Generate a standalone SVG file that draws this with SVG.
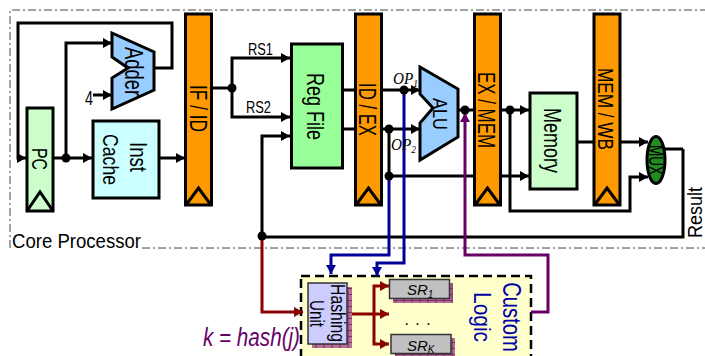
<svg xmlns="http://www.w3.org/2000/svg" width="705" height="356" viewBox="0 0 705 356">
<style>
text{font-family:"Liberation Sans",Arial,sans-serif;fill:#000}
.s{font-family:"Liberation Serif","Times New Roman",serif;font-style:italic}
.w{fill:none;stroke:#000;stroke-width:3}
.bl{fill:none;stroke:#000099;stroke-width:3}
.rd{fill:none;stroke:#8b0000;stroke-width:3}
.pu{fill:none;stroke:#660066;stroke-width:3}
.bar{fill:#ff9900;stroke:#000;stroke-width:3}
.box{stroke:#000;stroke-width:3}
.clk{fill:none;stroke:#000;stroke-width:3}
.a{marker-end:url(#ab)}
.dot{fill:#000}
.shadow{fill:url(#brick)}
.unit{stroke:#333;stroke-width:1.5}
.m{text-anchor:middle}
</style>
<defs>
<marker id="ab" markerUnits="userSpaceOnUse" markerWidth="10" markerHeight="10" viewBox="0 0 10 10" refX="9" refY="5" orient="auto"><path d="M0 0L9 5L0 10Z" fill="#000"/></marker>
<marker id="ar" markerUnits="userSpaceOnUse" markerWidth="10" markerHeight="10" viewBox="0 0 10 10" refX="9" refY="5" orient="auto"><path d="M0 0L9 5L0 10Z" fill="#8b0000"/></marker>
<marker id="an" markerUnits="userSpaceOnUse" markerWidth="10" markerHeight="10" viewBox="0 0 10 10" refX="9" refY="5" orient="auto"><path d="M0 0L9 5L0 10Z" fill="#000099"/></marker>
<marker id="ap" markerUnits="userSpaceOnUse" markerWidth="10" markerHeight="10" viewBox="0 0 10 10" refX="9" refY="5" orient="auto"><path d="M0 0L9 5L0 10Z" fill="#660066"/></marker>
<pattern id="brick" patternUnits="userSpaceOnUse" width="8" height="6"><rect width="8" height="6" fill="#b5709a"/><path d="M0 .5H8M4 0V6" stroke="#7d2f60" stroke-width="1"/></pattern>
</defs>

<g id="core-processor-border">
<path d="M10 248V10H705" fill="none" stroke="#444" stroke-width="1" stroke-dasharray="8 3 2 3"/>
<path d="M142 248H705" fill="none" stroke="#444" stroke-width="1" stroke-dasharray="8 3 2 3"/>
<text x="12" y="248" font-size="21" textLength="129" lengthAdjust="spacingAndGlyphs">Core Processor</text>
</g>

<g id="custom-logic">
<rect x="301" y="276" width="230" height="84" fill="#ffffcc" stroke="#000" stroke-width="2.500" stroke-dasharray="9 5"/>
<text class="m" font-size="25" style="fill:#0000aa" transform="translate(503 317) rotate(90) scale(.81 1)">Custom</text>
<text class="m" font-size="24" style="fill:#0000aa" transform="translate(474 317) rotate(90)" textLength="50" lengthAdjust="spacingAndGlyphs">Logic</text>
<text class="m" x="418" y="325" font-size="16" letter-spacing="1">. . .</text>
</g>

<g id="connectors">
<path class="w" d="M154 68H172V23H18V158H26" marker-end="url(#ab)"/>
<path class="w a" d="M53 158H92"/>
<path class="w a" d="M66 158V43H112"/>
<path class="w a" d="M93 95H112"/>
<path class="w a" d="M160 158H185"/>
<path class="w" d="M212 88H232"/>
<path class="w a" d="M232 88V58H290"/>
<path class="w a" d="M232 88V117H290"/>
<path class="w a" d="M683 149V237H262V136H290"/>
<path class="w" d="M665 149H683"/>
<path class="w" d="M342 90H355M342 129H355"/>
<path class="w a" d="M382 90H420"/>
<path class="w a" d="M382 129H420"/>
<path class="w" d="M389 129V176"/>
<path class="w a" d="M389 176H529"/>
<path class="w" d="M458 110H474"/>
<path class="w a" d="M501 110H529"/>
<path class="w a" d="M510 110V211H630V177H648"/>
<path class="w" d="M577 142H593"/>
<path class="w a" d="M621 142H648"/>
<path class="bl" d="M404 90V263H377V276" marker-end="url(#an)"/>
<path class="bl" d="M389 176V255H331V274" marker-end="url(#an)"/>
<path class="rd" d="M262 237V312H303" marker-end="url(#ar)"/>
<path class="rd" d="M348 314H389" marker-end="url(#ar)"/>
<path class="rd" d="M374 314V286H389" marker-end="url(#ar)"/>
<path class="rd" d="M374 314V344H389" marker-end="url(#ar)"/>
<path class="pu" d="M531 312H548V255H465V113" marker-end="url(#ap)"/>
<circle class="dot" cx="66" cy="158" r="4.500"/>
<circle class="dot" cx="232" cy="88" r="4.500"/>
<circle class="dot" cx="262" cy="236" r="4.500"/>
<circle class="dot" cx="404" cy="90" r="4.500"/>
<circle class="dot" cx="389" cy="129" r="4.500"/>
<circle class="dot" cx="389" cy="176" r="4.500"/>
<circle class="dot" cx="465" cy="110" r="4.500"/>
<circle class="dot" cx="510" cy="110" r="4.500"/>
</g>

<g id="pc">
<rect class="box" x="27" y="108" width="26" height="103" fill="#ccffcc"/>
<path class="clk" d="M27 211L40 192L53 211"/>
<text class="m" font-size="22" transform="translate(32 159) rotate(90)" textLength="22" lengthAdjust="spacingAndGlyphs">PC</text>
</g>
<g id="adder">
<path class="box" d="M112 33L154 52V90L112 109V78L128 68L112 57Z" fill="#99ccff"/>
<text class="m" font-size="25" transform="translate(125 71.500) rotate(90)" textLength="49" lengthAdjust="spacingAndGlyphs">Adder</text>
</g>
<text x="85" y="105" font-size="20" textLength="8" lengthAdjust="spacingAndGlyphs">4</text>
<g id="inst-cache">
<rect class="box" x="93" y="121" width="66" height="77" fill="#ccffff"/>
<text class="m" font-size="23" transform="translate(130 157) rotate(90)" textLength="30" lengthAdjust="spacingAndGlyphs">Inst</text>
<text class="m" font-size="22" transform="translate(103 159.500) rotate(90)" textLength="51" lengthAdjust="spacingAndGlyphs">Cache</text>
</g>
<g id="if-id">
<rect class="bar" x="185.500" y="14" width="26" height="191"/>
<path class="clk" d="M186 205L198.500 188L211 205"/>
<text class="m" font-size="23" transform="translate(190 108.500) rotate(90)" textLength="47" lengthAdjust="spacingAndGlyphs">IF / ID</text>
</g>
<g id="reg-file">
<rect class="box" x="291.500" y="44" width="51" height="124" fill="#99ff99"/>
<text class="m" font-size="24" transform="translate(307 106.500) rotate(90)" textLength="67" lengthAdjust="spacingAndGlyphs">Reg File</text>
</g>
<g id="id-ex">
<rect class="bar" x="355.500" y="14" width="26" height="191"/>
<path class="clk" d="M356 205L368.500 188L381 205"/>
<text class="m" font-size="23" transform="translate(359 109.500) rotate(90)" textLength="53" lengthAdjust="spacingAndGlyphs">ID / EX</text>
</g>
<g id="alu">
<path class="box" d="M420 67L458 89V137L420 160V123L433 108L420 94Z" fill="#99ccff"/>
<text class="m" font-size="21" transform="translate(433 114) rotate(90)" textLength="32" lengthAdjust="spacingAndGlyphs">ALU</text>
</g>
<g id="ex-mem">
<rect class="bar" x="474.500" y="14" width="26" height="191"/>
<path class="clk" d="M475 205L487.500 188L500 205"/>
<text class="m" font-size="23" transform="translate(478 110) rotate(90)" textLength="76" lengthAdjust="spacingAndGlyphs">EX / MEM</text>
</g>
<g id="memory">
<rect class="box" x="530" y="93" width="47" height="96" fill="#ccffcc"/>
<text class="m" font-size="23" transform="translate(544 140.500) rotate(90)" textLength="65" lengthAdjust="spacingAndGlyphs">Memory</text>
</g>
<g id="mem-wb">
<rect class="bar" x="594" y="14" width="26" height="191"/>
<path class="clk" d="M594.500 205L607 188L619.500 205"/>
<text class="m" font-size="22" transform="translate(598 109) rotate(90)" textLength="82" lengthAdjust="spacingAndGlyphs">MEM / WB</text>
</g>
<g id="mux">
<ellipse cx="656" cy="160" rx="9" ry="23.500" fill="#228b22" stroke="#000" stroke-width="3"/>
<text class="m" font-size="20" transform="translate(649 160) rotate(90)" textLength="30" lengthAdjust="spacingAndGlyphs">MUX</text>
</g>
<g id="hashing-unit">
<rect class="shadow" x="312" y="287" width="40" height="61"/>
<rect class="unit" x="308" y="283" width="39" height="61" fill="#ccccff"/>
<text class="m" font-size="20" transform="translate(331 313) rotate(90)" textLength="58" lengthAdjust="spacingAndGlyphs">Hashing</text>
<text class="m" font-size="20" transform="translate(310 313.500) rotate(90)" textLength="27" lengthAdjust="spacingAndGlyphs">Unit</text>
</g>
<g id="sr-1">
<rect class="shadow" x="393" y="283" width="60" height="20"/>
<rect class="unit" x="389.500" y="279.500" width="60" height="19" fill="#c0c0c0"/>
<text x="407" y="295" font-size="15" font-style="italic">SR<tspan font-size="10" dy="3">1</tspan></text>
</g>
<g id="sr-k">
<rect class="shadow" x="395" y="338" width="60" height="20"/>
<rect class="unit" x="391" y="334.500" width="60" height="19" fill="#c0c0c0"/>
<text x="407" y="351" font-size="15" font-style="italic">SR<tspan font-size="10" dy="2">K</tspan></text>
</g>

<g id="labels">
<text x="248" y="55" font-size="16" textLength="25" lengthAdjust="spacingAndGlyphs">RS1</text>
<text x="246" y="113" font-size="16" textLength="25" lengthAdjust="spacingAndGlyphs">RS2</text>
<text class="s" x="393" y="84" font-size="16" textLength="25" lengthAdjust="spacingAndGlyphs">OP<tspan font-size="10" dy="3">1</tspan></text>
<text class="s" x="391" y="150" font-size="16" textLength="25" lengthAdjust="spacingAndGlyphs">OP<tspan font-size="10" dy="3">2</tspan></text>
<text font-size="21" transform="translate(702 238) rotate(-90)" textLength="51" lengthAdjust="spacingAndGlyphs">Result</text>
<text x="203" y="346" font-size="25" font-style="italic" style="fill:#660066" textLength="97" lengthAdjust="spacingAndGlyphs">k = hash(j)</text>
</g>
</svg>
